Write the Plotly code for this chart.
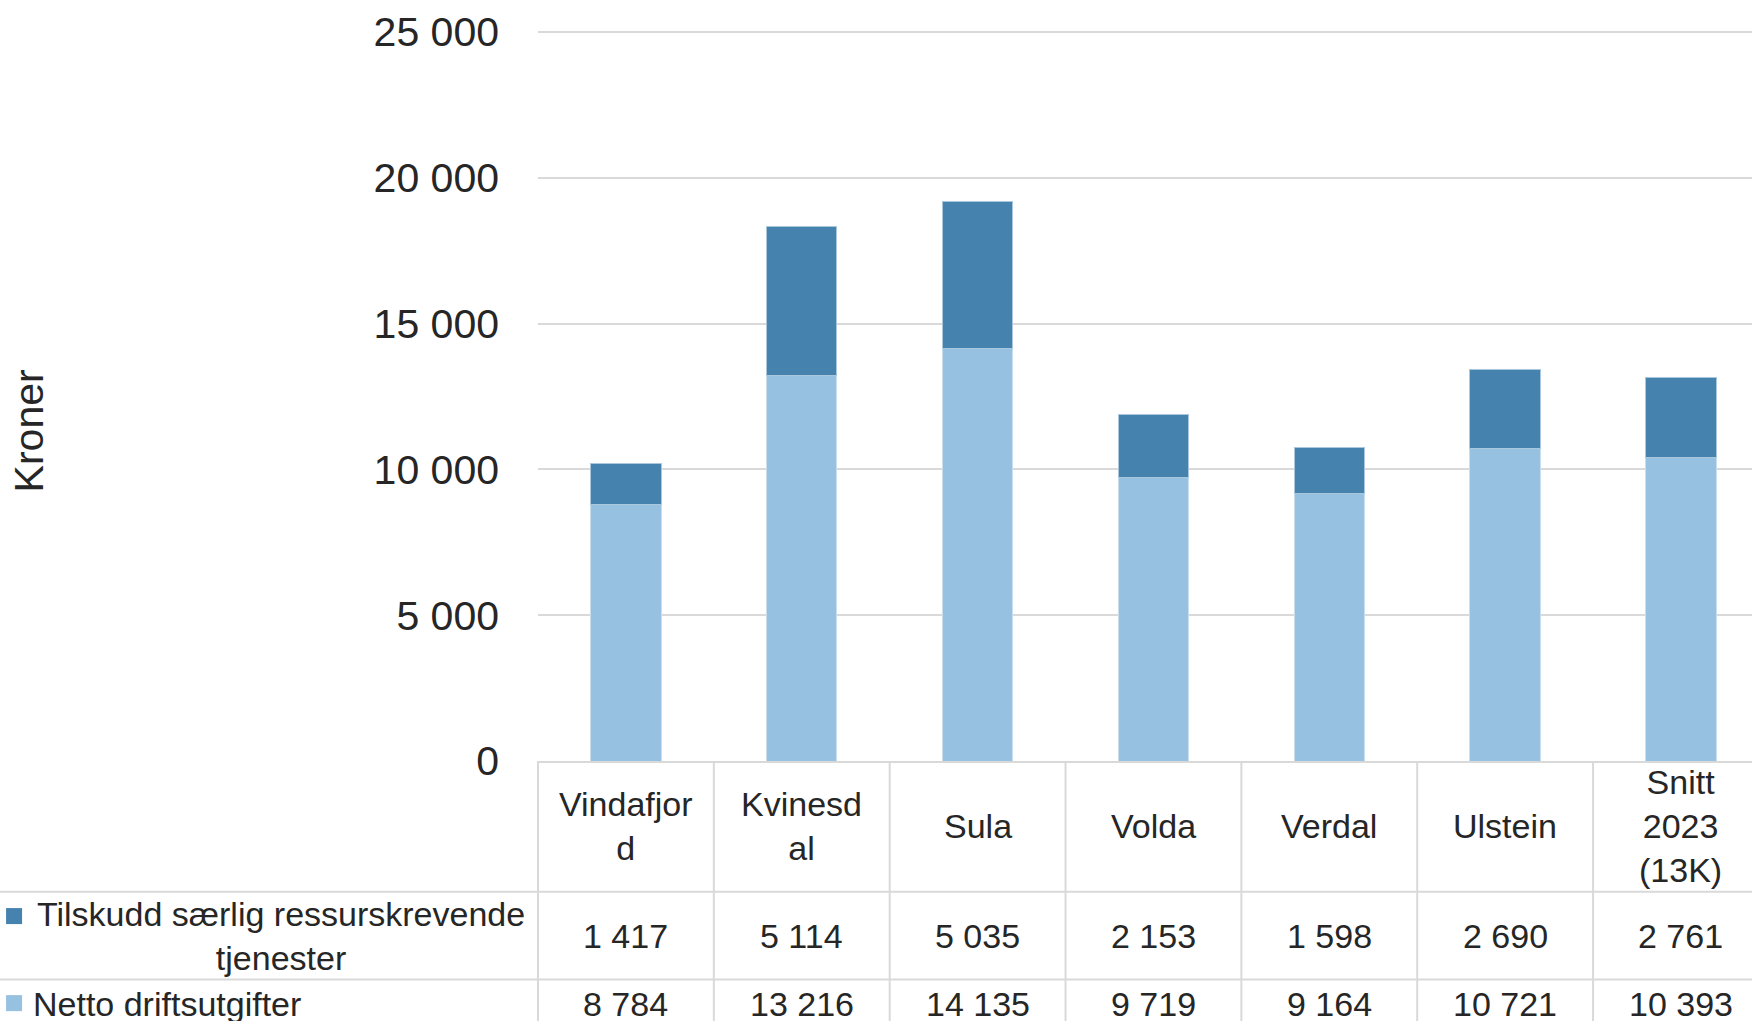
import plotly.graph_objects as go

# ---------------- data ----------------
categories = ["Vindafjord", "Kvinesdal", "Sula", "Volda", "Verdal", "Ulstein", "Snitt 2023 (13K)"]
category_labels = ["Vindafjor<br>d", "Kvinesd<br>al", "Sula", "Volda", "Verdal", "Ulstein", "Snitt<br>2023<br>(13K)"]
netto = [8784, 13216, 14135, 9719, 9164, 10721, 10393]
tilskudd = [1417, 5114, 5035, 2153, 1598, 2690, 2761]
series_names = ["Tilskudd særlig ressurskrevende<br>tjenester", "Netto driftsutgifter"]
y_ticks = [0, 5000, 10000, 15000, 20000, 25000]
y_title = "Kroner"

# ---------------- styling ----------------
W, H = 1752, 1021
PL, PR = 538.3, 1752.0      # plot area left/right px
PB = 761.0                  # plot area bottom px (value 0)
PX_PER_5000 = 145.74
YMAX = 25100
PT = PB - YMAX / 5000 * PX_PER_5000
CAT_W = 175.8               # px per category
XMIN = -0.5
XMAX = XMIN + (PR - PL) / CAT_W

DARK = "#4682AE"
LIGHT = "#97C1E1"
GRID = "#D9D9D9"
TXT = "#262626"
FONT = "Liberation Sans, Arial, sans-serif"
TABLE_FS = 34


def px_x(px):
    return (px - PL) / (PR - PL)


def px_y(py):
    return (PB - py) / (PB - PT)


def fmt(v):
    return f"{v:,}".replace(",", " ")


x_idx = list(range(len(categories)))

fig = go.Figure()
fig.add_trace(go.Bar(x=x_idx, y=netto, name="Netto driftsutgifter",
                     marker=dict(color=LIGHT, line=dict(color="#C9DEEE", width=1)),
                     width=0.4, showlegend=False))
fig.add_trace(go.Bar(x=x_idx, y=tilskudd, name="Tilskudd særlig ressurskrevende tjenester",
                     marker=dict(color=DARK, line=dict(color="#A9C8DE", width=1)),
                     width=0.4, showlegend=False))

shapes = []
annotations = []

# table horizontal lines
row1_top, row2_top, bottom = 891.7, 979.3, 1021
shapes.append(dict(type="line", xref="paper", yref="paper", x0=px_x(0), x1=px_x(W),
                   y0=px_y(row1_top), y1=px_y(row1_top), line=dict(color=GRID, width=2)))
shapes.append(dict(type="line", xref="paper", yref="paper", x0=px_x(0), x1=px_x(W),
                   y0=px_y(row2_top), y1=px_y(row2_top), line=dict(color=GRID, width=2)))
# table vertical lines (category boundaries)
for i in range(len(categories)):
    xb = (i - 0.5 - XMIN) / (XMAX - XMIN)
    shapes.append(dict(type="line", xref="paper", yref="paper", x0=xb, x1=xb,
                       y0=px_y(PB), y1=px_y(bottom + 5), line=dict(color=GRID, width=2)))

# header labels
for i, lab in enumerate(category_labels):
    annotations.append(dict(x=i, xref="x", y=px_y((PB + row1_top) / 2), yref="paper",
                            text=lab, showarrow=False, align="center",
                            xanchor="center", yanchor="middle",
                            font=dict(size=TABLE_FS, color=TXT, family=FONT)))
# values
for i in range(len(categories)):
    annotations.append(dict(x=i, xref="x", y=px_y((row1_top + row2_top) / 2), yref="paper",
                            text=fmt(tilskudd[i]), showarrow=False,
                            xanchor="center", yanchor="middle",
                            font=dict(size=TABLE_FS, color=TXT, family=FONT)))
    annotations.append(dict(x=i, xref="x", y=px_y(1004), yref="paper",
                            text=fmt(netto[i]), showarrow=False,
                            xanchor="center", yanchor="middle",
                            font=dict(size=TABLE_FS, color=TXT, family=FONT)))

# legend keys + row labels
shapes.append(dict(type="rect", xref="paper", yref="paper", x0=px_x(6.5), x1=px_x(22.5),
                   y0=px_y(924), y1=px_y(908), fillcolor=DARK, line=dict(width=0)))
shapes.append(dict(type="rect", xref="paper", yref="paper", x0=px_x(6.5), x1=px_x(22.5),
                   y0=px_y(1011), y1=px_y(995), fillcolor=LIGHT, line=dict(width=0)))
annotations.append(dict(x=px_x(281), xref="paper", y=px_y((row1_top + row2_top) / 2), yref="paper",
                        text=series_names[0], showarrow=False, align="center",
                        xanchor="center", yanchor="middle",
                        font=dict(size=TABLE_FS, color=TXT, family=FONT)))
annotations.append(dict(x=px_x(31), xref="paper", y=px_y(1004), yref="paper",
                        text=series_names[1], showarrow=False, align="left",
                        xanchor="left", yanchor="middle",
                        font=dict(size=TABLE_FS, color=TXT, family=FONT)))

# y title
annotations.append(dict(x=px_x(29), xref="paper", y=px_y(431), yref="paper",
                        text=y_title, showarrow=False, textangle=-90,
                        xanchor="center", yanchor="middle",
                        font=dict(size=41, color=TXT, family=FONT)))

fig.update_layout(
    width=W, height=H,
    margin=dict(l=PL, r=W - PR, t=PT, b=H - PB, pad=0),
    barmode="stack",
    plot_bgcolor="white", paper_bgcolor="white",
    separators=", ",
    font=dict(family=FONT, color=TXT),
    shapes=shapes, annotations=annotations,
    showlegend=False,
)
fig.update_xaxes(range=[XMIN, XMAX], showticklabels=False, showgrid=False,
                 zeroline=False, showline=True, linecolor=GRID, linewidth=2,
                 ticks="", fixedrange=True)
fig.update_yaxes(range=[0, YMAX], tickvals=y_ticks, tickformat=",d",
                 showgrid=True, gridcolor=GRID, gridwidth=2, zeroline=False,
                 showline=False, ticks="", ticklabelstandoff=38,
                 tickfont=dict(size=41, color=TXT, family=FONT), fixedrange=True)

fig.write_html("out.html", config={"displayModeBar": False},
               post_script="document.body.style.margin='0';document.body.style.overflow='hidden';")
